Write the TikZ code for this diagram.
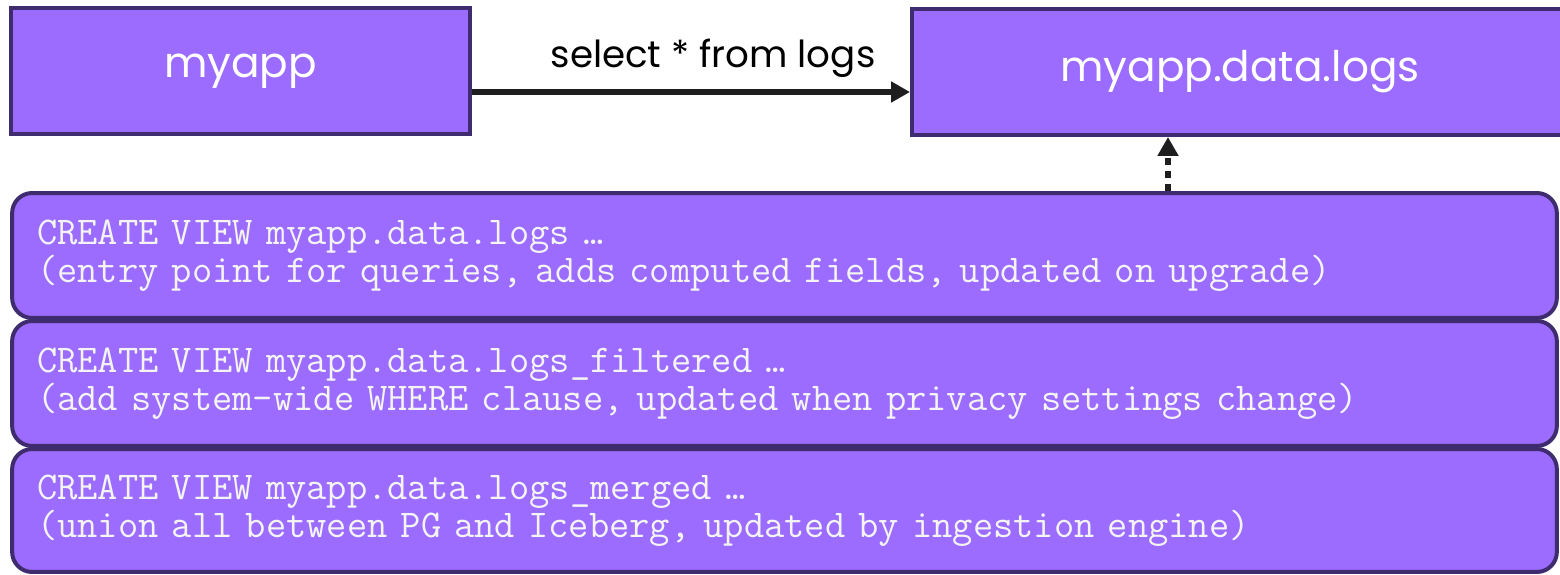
\documentclass[tikz,border=0pt]{standalone}
\usepackage{fontspec}
\newfontfamily\popfont{Poppins}
\usetikzlibrary{arrows.meta}
\definecolor{viewfill}{HTML}{9B6CFF}
\definecolor{viewline}{HTML}{3F2C6E}
\definecolor{arrowdark}{HTML}{1E1E1E}
\definecolor{monotext}{HTML}{F4F4F4}

\begin{document}
\begin{tikzpicture}[x=0.02cm,y=-0.02cm,
		box/.style={draw=viewline, fill=viewfill, line width=0.08cm, minimum height=2.52cm, text=white, font=\popfont\fontsize{24}{28}\selectfont},
		viewbox/.style={draw=viewline, fill=viewfill, line width=0.08cm, rounded corners=0.4cm, minimum width=30.9cm, minimum height=2.5cm, inner xsep=0.5cm, text width=29.9cm, align=left, text=monotext, font=\ttfamily\fontsize{22.4}{21.6}\selectfont},
		arr/.style={-{Triangle[length=0.38cm,width=0.4cm]}, line width=0.11cm, draw=arrowdark}]
		\useasboundingbox (0,0) rectangle (1560,575);
		\node[box, minimum width=9.18cm] (myapp) at (240.5,71) {myapp};
		\node[box, minimum width=13.12cm] (logs) at (1240,72) {myapp.data.logs};
		\node[viewbox] (view1) at (784.5,255.5) {CREATE VIEW myapp.data.logs …\\(entry point for queries, adds computed fields, updated on upgrade)};
		\node[viewbox] (view2) at (784.5,383.5) {CREATE VIEW myapp.data.logs\_filtered …\\(add system-wide WHERE clause, updated when privacy settings change)};
		\node[viewbox, minimum height=2.46cm] (view3) at (784.5,510.5) {CREATE VIEW myapp.data.logs\_merged …\\(union all between PG and Iceberg, updated by ingestion engine)};
		\draw[arr] ([yshift=-0.42cm]myapp.east) -- ([yshift=-0.42cm]myapp.east -| logs.west) node[pos=0.5, anchor=base, xshift=0.44cm, yshift=0.5cm, font=\popfont\fontsize{21.2}{25}\selectfont, text=black] (query) {select * from logs};
		\draw[arr, line width=0.13cm, dash pattern=on 0.14cm off 0.12cm] ([xshift=-1.44cm]logs.south |- view1.north) -- ([xshift=-1.44cm]logs.south);
	\end{tikzpicture}
\end{document}
